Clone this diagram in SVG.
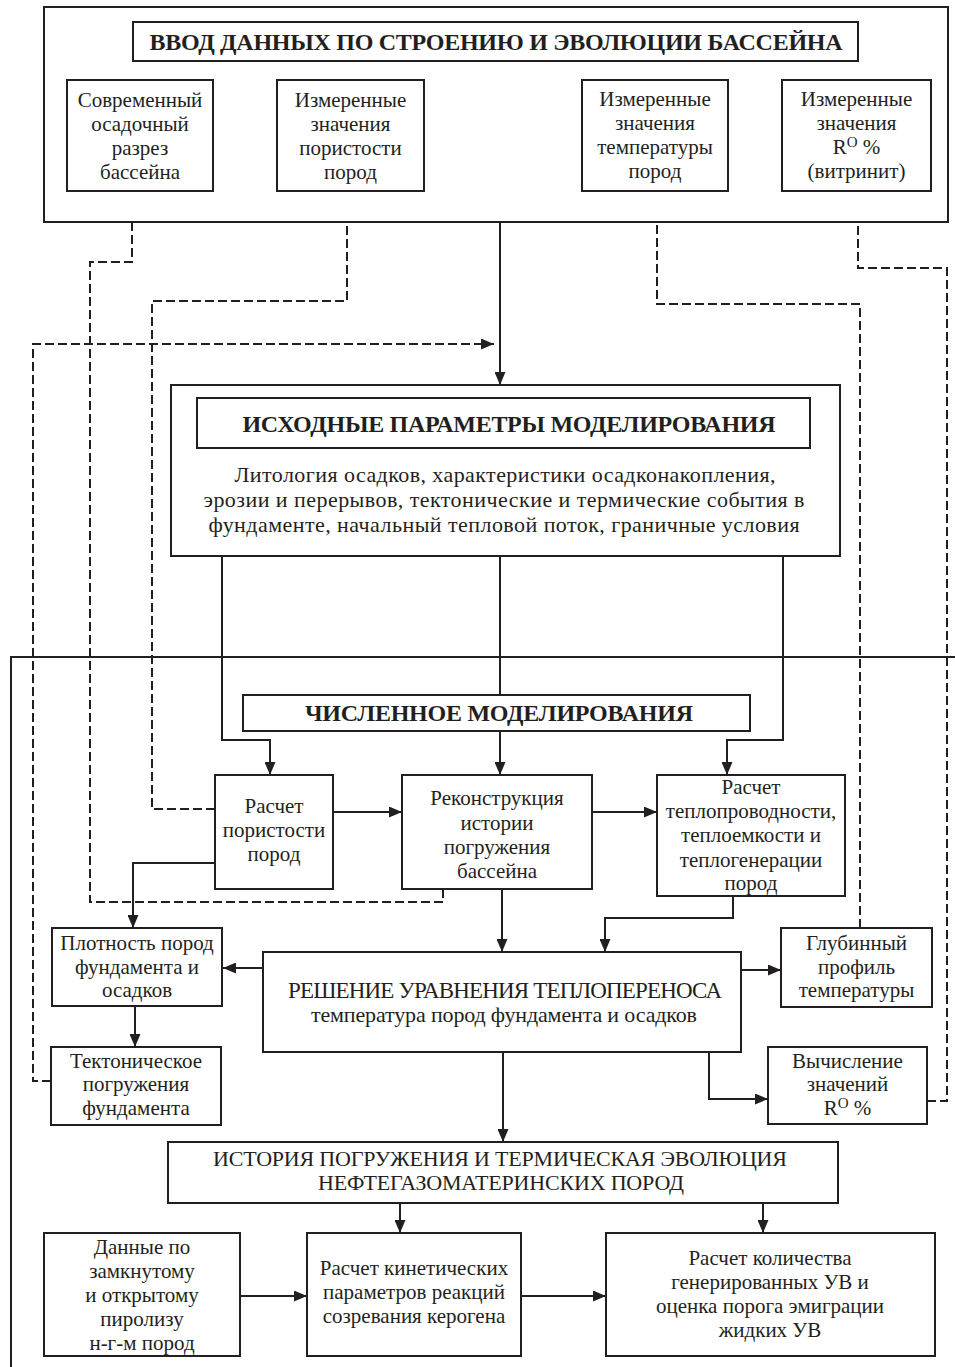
<svg xmlns="http://www.w3.org/2000/svg" width="955" height="1367" viewBox="0 0 955 1367">
<defs>
<style>
.box{fill:#fff;stroke:#231f20;stroke-width:2}
.t{font-family:"Liberation Serif","Times New Roman",serif;font-size:21px;fill:#231f20;text-anchor:middle}
.l{font-size:22px}
.b{font-family:"Liberation Serif","Times New Roman",serif;font-size:24px;font-weight:bold;fill:#231f20;text-anchor:middle}
.c{fill:none;stroke:#231f20;stroke-width:2}
.d{fill:none;stroke:#231f20;stroke-width:2;stroke-dasharray:9,4}
.sup{font-size:15px}
</style>
<marker id="ah" markerUnits="userSpaceOnUse" markerWidth="13" markerHeight="11" refX="13" refY="5.5" orient="auto">
<path d="M0,0 L13,5.5 L0,11 z" fill="#231f20"/>
</marker>
</defs>
<rect width="955" height="1367" fill="#fff"/>

<g id="connectors">
<path class="c" d="M500,222 V385" marker-end="url(#ah)"/>
<path class="c" d="M222,556 V740 H270 V775" marker-end="url(#ah)"/>
<path class="c" d="M500,556 V775" marker-end="url(#ah)"/>
<path class="c" d="M783,556 V740 H727 V775" marker-end="url(#ah)"/>
<path class="c" d="M333,812 H402" marker-end="url(#ah)"/>
<path class="c" d="M592,812 H657" marker-end="url(#ah)"/>
<path class="c" d="M215,863 H133 V928" marker-end="url(#ah)"/>
<path class="c" d="M502,889 V952" marker-end="url(#ah)"/>
<path class="c" d="M733,896 V918 H605 V952" marker-end="url(#ah)"/>
<path class="c" d="M263,968 H223" marker-end="url(#ah)"/>
<path class="c" d="M135,1006 V1047" marker-end="url(#ah)"/>
<path class="c" d="M741,970 H781" marker-end="url(#ah)"/>
<path class="c" d="M709,1052 V1099 H768" marker-end="url(#ah)"/>
<path class="c" d="M503,1052 V1142" marker-end="url(#ah)"/>
<path class="c" d="M400,1203 V1233" marker-end="url(#ah)"/>
<path class="c" d="M763,1203 V1233" marker-end="url(#ah)"/>
<path class="c" d="M240,1296 H307" marker-end="url(#ah)"/>
<path class="c" d="M521,1296 H606" marker-end="url(#ah)"/>
<path class="c" d="M955,657 H11 V1367"/>
<path class="d" d="M443,889 V902 H90 V262 H132 V197" marker-end="url(#ah)"/>
<path class="d" d="M215,809 H152 V301 H347 V197" marker-end="url(#ah)"/>
<path class="d" d="M51,1081 H33 V344 H494" marker-end="url(#ah)"/>
<path class="d" d="M860,928 V304 H657 V197" marker-end="url(#ah)"/>
<path class="d" d="M927,1101 H947 V268 H858 V197" marker-end="url(#ah)"/>
</g>

<g id="input">
<rect class="box" x="44" y="7" width="904" height="215"/>
<rect class="box" x="133" y="22" width="725" height="39"/>
<text class="b" x="496" y="50" textLength="693">ВВОД ДАННЫХ ПО СТРОЕНИЮ И ЭВОЛЮЦИИ БАССЕЙНА</text>
</g>
<g id="section">
<rect class="box" x="67" y="80" width="146" height="111"/>
<text class="t" x="140" y="107">Современный</text>
<text class="t" x="140" y="131">осадочный</text>
<text class="t" x="140" y="155">разрез</text>
<text class="t" x="140" y="179">бассейна</text>
</g>
<g id="porosity-meas">
<rect class="box" x="277" y="80" width="147" height="111"/>
<text class="t" x="350.5" y="107">Измеренные</text>
<text class="t" x="350.5" y="131">значения</text>
<text class="t" x="350.5" y="155">пористости</text>
<text class="t" x="350.5" y="179">пород</text>
</g>
<g id="temp-meas">
<rect class="box" x="582" y="80" width="146" height="111"/>
<text class="t" x="655" y="106">Измеренные</text>
<text class="t" x="655" y="130">значения</text>
<text class="t" x="655" y="154">температуры</text>
<text class="t" x="655" y="178">пород</text>
</g>
<g id="ro-meas">
<rect class="box" x="782" y="80" width="149" height="111"/>
<text class="t" x="856.5" y="106">Измеренные</text>
<text class="t" x="856.5" y="130">значения</text>
<text class="t" x="856.5" y="154">R<tspan class="sup" dy="-7">O</tspan><tspan dy="7"> %</tspan></text>
<text class="t" x="856.5" y="178">(витринит)</text>
</g>

<g id="params">
<rect class="box" x="171" y="385" width="669" height="171"/>
<rect class="box" x="197" y="398" width="613" height="50"/>
<text class="b" x="509" y="432" textLength="533">ИСХОДНЫЕ ПАРАМЕТРЫ МОДЕЛИРОВАНИЯ</text>
<text class="t l" x="505" y="482" textLength="541">Литология осадков, характеристики осадконакопления,</text>
<text class="t l" x="504" y="507" textLength="601">эрозии и перерывов, тектонические и термические события в</text>
<text class="t l" x="504" y="532" textLength="591">фундаменте, начальный тепловой поток, граничные условия</text>
</g>

<g id="numeric">
<rect class="box" x="243" y="695" width="507" height="36"/>
<text class="b" x="499" y="721" textLength="388">ЧИСЛЕННОЕ МОДЕЛИРОВАНИЯ</text>
</g>

<g id="porosity-calc">
<rect class="box" x="215" y="775" width="118" height="114"/>
<text class="t" x="274" y="813">Расчет</text>
<text class="t" x="274" y="837">пористости</text>
<text class="t" x="274" y="861">пород</text>
</g>
<g id="burial">
<rect class="box" x="402" y="775" width="190" height="114"/>
<text class="t" x="497" y="805">Реконструкция</text>
<text class="t" x="497" y="830">истории</text>
<text class="t" x="497" y="854">погружения</text>
<text class="t" x="497" y="878">бассейна</text>
</g>
<g id="thermal-props">
<rect class="box" x="657" y="775" width="188" height="121"/>
<text class="t" x="751" y="794">Расчет</text>
<text class="t" x="751" y="818">теплопроводности,</text>
<text class="t" x="751" y="842">теплоемкости и</text>
<text class="t" x="751" y="867">теплогенерации</text>
<text class="t" x="751" y="890">пород</text>
</g>

<g id="density">
<rect class="box" x="52" y="928" width="170" height="78"/>
<text class="t" x="137" y="950">Плотность пород</text>
<text class="t" x="137" y="974">фундамента и</text>
<text class="t" x="137" y="997">осадков</text>
</g>
<g id="tectonic">
<rect class="box" x="51" y="1047" width="170" height="78"/>
<text class="t" x="136" y="1068">Тектоническое</text>
<text class="t" x="136" y="1091">погружения</text>
<text class="t" x="136" y="1115">фундамента</text>
</g>
<g id="heat">
<rect class="box" x="263" y="952" width="478" height="100"/>
<text class="t" x="505" y="998" style="font-size:23px" textLength="434">РЕШЕНИЕ УРАВНЕНИЯ ТЕПЛОПЕРЕНОСА</text>
<text class="t l" x="504" y="1022" textLength="386">температура пород фундамента и осадков</text>
</g>
<g id="profile">
<rect class="box" x="781" y="928" width="151" height="79"/>
<text class="t" x="856.5" y="950">Глубинный</text>
<text class="t" x="856.5" y="974">профиль</text>
<text class="t" x="856.5" y="997">температуры</text>
</g>
<g id="ro-calc">
<rect class="box" x="768" y="1047" width="159" height="77"/>
<text class="t" x="847.5" y="1068">Вычисление</text>
<text class="t" x="847.5" y="1091">значений</text>
<text class="t" x="847.5" y="1115">R<tspan class="sup" dy="-7">O</tspan><tspan dy="7"> %</tspan></text>
</g>

<g id="history">
<rect class="box" x="168" y="1142" width="670" height="61"/>
<text class="t l" x="500" y="1166" textLength="574">ИСТОРИЯ ПОГРУЖЕНИЯ И ТЕРМИЧЕСКАЯ ЭВОЛЮЦИЯ</text>
<text class="t l" x="501" y="1190" textLength="366">НЕФТЕГАЗОМАТЕРИНСКИХ ПОРОД</text>
</g>

<g id="pyrolysis">
<rect class="box" x="44" y="1233" width="196" height="123"/>
<text class="t" x="142" y="1254">Данные по</text>
<text class="t" x="142" y="1278">замкнутому</text>
<text class="t" x="142" y="1302">и открытому</text>
<text class="t" x="142" y="1326">пиролизу</text>
<text class="t" x="142" y="1350">н-г-м пород</text>
</g>
<g id="kinetics">
<rect class="box" x="307" y="1233" width="214" height="123"/>
<text class="t" x="414" y="1275">Расчет кинетических</text>
<text class="t" x="414" y="1299">параметров реакций</text>
<text class="t" x="414" y="1323">созревания керогена</text>
</g>
<g id="generation">
<rect class="box" x="606" y="1233" width="329" height="123"/>
<text class="t" x="770" y="1265">Расчет количества</text>
<text class="t" x="770" y="1289">генерированных УВ и</text>
<text class="t" x="770" y="1313">оценка порога эмиграции</text>
<text class="t" x="770" y="1337">жидких УВ</text>
</g>
</svg>
